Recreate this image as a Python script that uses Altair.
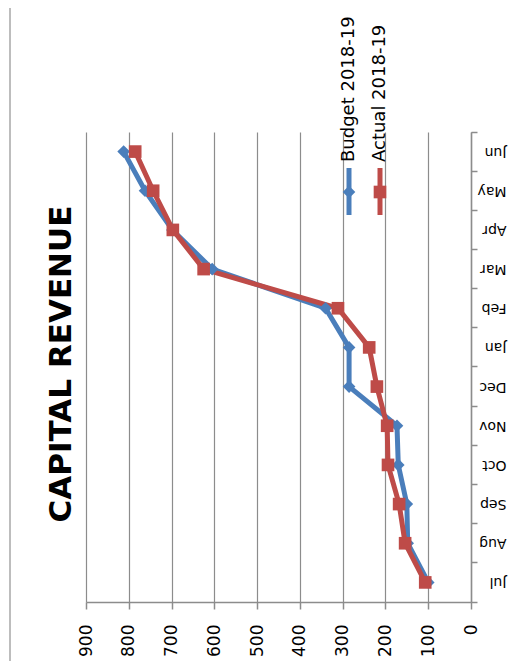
import altair as alt
import pandas as pd

months = ['Jul', 'Aug', 'Sep', 'Oct', 'Nov', 'Dec', 'Jan', 'Feb', 'Mar', 'Apr', 'May', 'Jun']
budget = [100, 148, 150, 170, 173, 285, 285, 340, 605, 698, 762, 812]
actual = [107, 154, 168, 194, 196, 220, 238, 311, 625, 697, 743, 785]
series_names = ['Budget 2018-19', 'Actual 2018-19']
series_colors = ['#4A7EBB', '#BE4B48']
series_shapes = ['diamond', 'square']
x_ticks = [0, 100, 200, 300, 400, 500, 600, 700, 800, 900]
title_text = 'CAPITAL REVENUE'

rows = []
for name, vals in zip(series_names, [budget, actual]):
    for i, (m, v) in enumerate(zip(months, vals)):
        rows.append({'month': m, 'series': name, 'value': v, 'month_idx': i})
df = pd.DataFrame(rows)

FONT = 'DejaVu Sans'
W, H = 385, 470

x_enc = alt.X('value:Q',
              scale=alt.Scale(domain=[0, 900], reverse=True, nice=False, zero=True),
              axis=alt.Axis(values=x_ticks, title=None, orient='bottom', labelAngle=270,
                            labelAlign='right', labelBaseline='middle',
                            labelFontSize=17, labelFont=FONT, labelColor='#000000',
                            labelPadding=15, tickSize=7, tickColor='#8c8c8c',
                            domainColor='#8c8c8c', domainWidth=1.5, tickWidth=1.5,
                            grid=True, gridColor='#8c8c8c', gridWidth=1.2))
y_enc = alt.Y('month:N', sort=months[::-1],
              scale=alt.Scale(type='band', paddingInner=0, paddingOuter=0),
              axis=alt.Axis(title=None, orient='right', labelAngle=180,
                            labelAlign='left', labelBaseline='middle',
                            labelFontSize=14, labelFont=FONT, labelColor='#000000',
                            labelPadding=29, tickSize=6, tickColor='#8c8c8c',
                            domainColor='#8c8c8c', domainWidth=1.5, tickWidth=1.5,
                            bandPosition=1, tickExtra=True, grid=False))
color_enc = alt.Color('series:N', scale=alt.Scale(domain=series_names, range=series_colors), legend=None)
shape_enc = alt.Shape('series:N', scale=alt.Scale(domain=series_names, range=series_shapes), legend=None)

base = alt.Chart(df)
lines = base.mark_line(strokeWidth=5).encode(
    x=x_enc, y=y_enc, color=color_enc, detail='series:N', order=alt.Order('month_idx:Q'))
points = base.mark_point(filled=True, size=160, opacity=1).encode(
    x=x_enc, y=y_enc, color=color_enc, shape=shape_enc)

title_layer = alt.Chart(pd.DataFrame({'t': [title_text]})).mark_text(
    angle=270, align='center', baseline='middle', font=FONT, fontSize=31, fontWeight='bold', color='#000000'
).encode(text='t:N', x=alt.value(-24.5), y=alt.value(232))

border = alt.Chart(pd.DataFrame({'t': [title_text]})).mark_rule(color='#bdbdbd', strokeWidth=2).encode(
    x=alt.value(-76), y=alt.value(-124), y2=alt.value(H + 59))

legend_layers = []
leg_x = [263, 294]
for i, name in enumerate(series_names):
    ld = alt.Chart(pd.DataFrame({'name': [name]}))
    legend_layers.append(ld.mark_rule(color=series_colors[i], strokeWidth=5).encode(
        x=alt.value(leg_x[i]), y=alt.value(36), y2=alt.value(83)))
    legend_layers.append(ld.mark_point(filled=True, opacity=1, color=series_colors[i],
                                       shape=series_shapes[i], size=160).encode(
        x=alt.value(leg_x[i]), y=alt.value(60)))
    legend_layers.append(ld.mark_text(angle=270, align='left', baseline='middle', font=FONT,
                                      fontSize=18, color='#000000').encode(
        text='name:N', x=alt.value(leg_x[i]), y=alt.value(30)))

chart = alt.layer(border, lines, points, title_layer, *legend_layers).properties(
    width=W, height=H,
    autosize=alt.AutoSizeParams(type='none'),
    padding={'left': 78, 'top': 124, 'right': 50, 'bottom': 59},
    background='#ffffff'
).configure_view(strokeOpacity=0)

chart.save("out.html", embed_options={"renderer": "svg", "actions": False})
